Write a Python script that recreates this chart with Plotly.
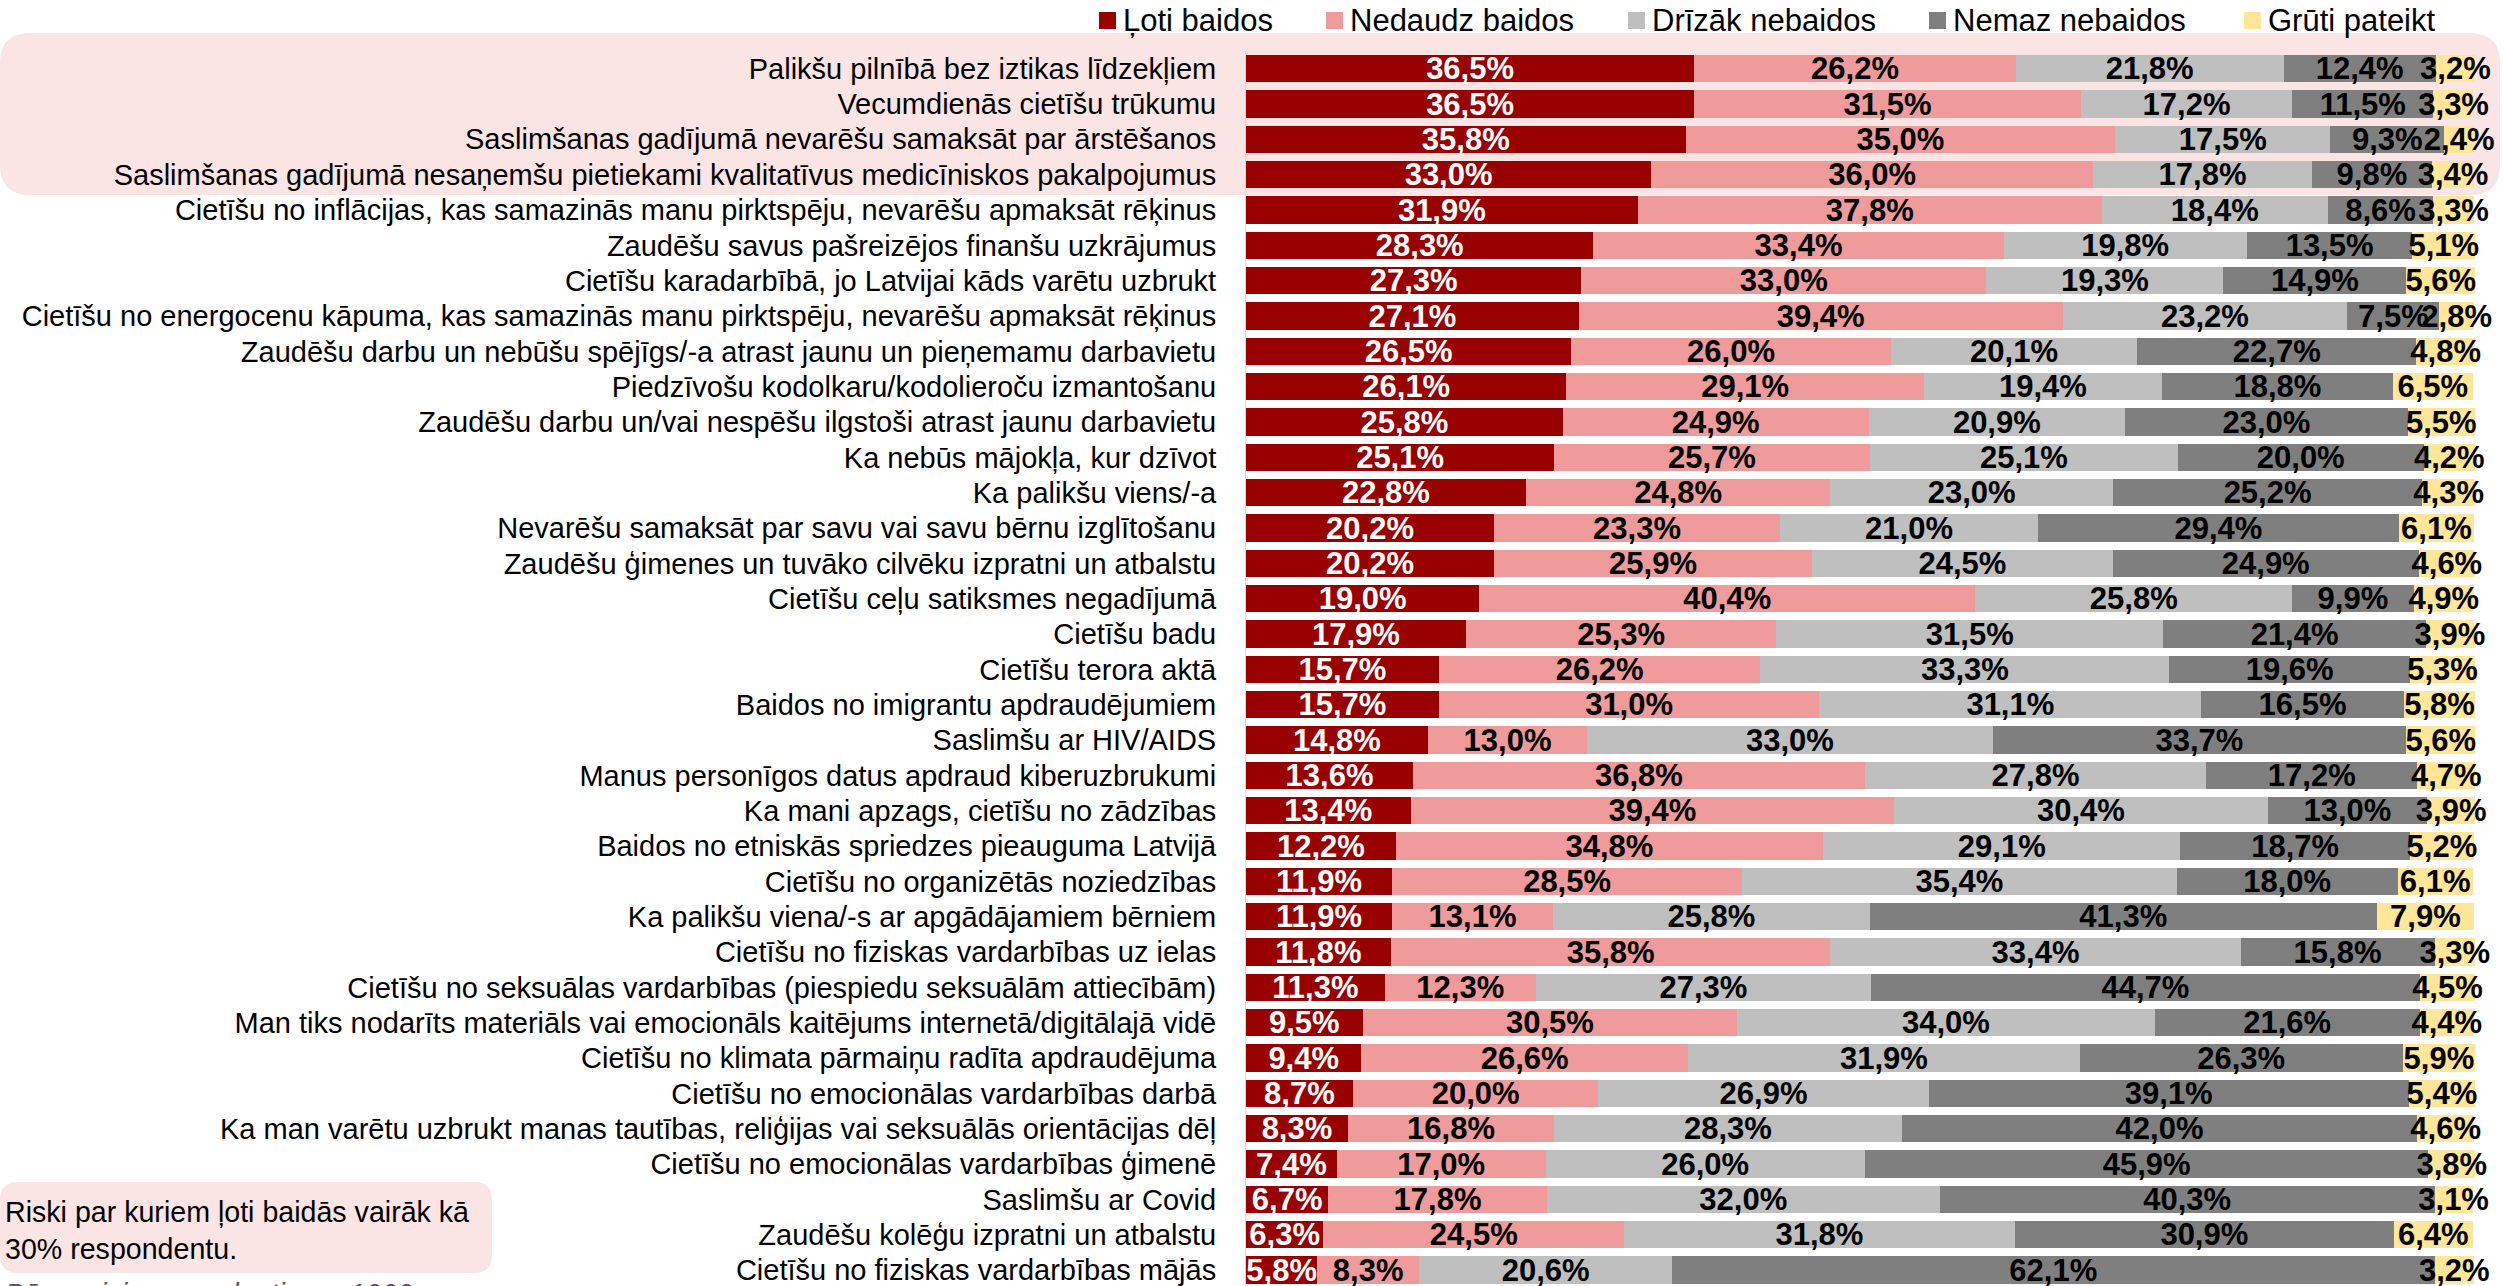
import plotly.graph_objects as go

categories = [
    "Palikšu pilnībā bez iztikas līdzekļiem",
    "Vecumdienās cietīšu trūkumu",
    "Saslimšanas gadījumā nevarēšu samaksāt par ārstēšanos",
    "Saslimšanas gadījumā nesaņemšu pietiekami kvalitatīvus medicīniskos pakalpojumus",
    "Cietīšu no inflācijas, kas samazinās manu pirktspēju, nevarēšu apmaksāt rēķinus",
    "Zaudēšu savus pašreizējos finanšu uzkrājumus",
    "Cietīšu karadarbībā, jo Latvijai kāds varētu uzbrukt",
    "Cietīšu no energocenu kāpuma, kas samazinās manu pirktspēju, nevarēšu apmaksāt rēķinus",
    "Zaudēšu darbu un nebūšu spējīgs/-a atrast jaunu un pieņemamu darbavietu",
    "Piedzīvošu kodolkaru/kodolieroču izmantošanu",
    "Zaudēšu darbu un/vai nespēšu ilgstoši atrast jaunu darbavietu",
    "Ka nebūs mājokļa, kur dzīvot",
    "Ka palikšu viens/-a",
    "Nevarēšu samaksāt par savu vai savu bērnu izglītošanu",
    "Zaudēšu ģimenes un tuvāko cilvēku izpratni un atbalstu",
    "Cietīšu ceļu satiksmes negadījumā",
    "Cietīšu badu",
    "Cietīšu terora aktā",
    "Baidos no imigrantu apdraudējumiem",
    "Saslimšu ar HIV/AIDS",
    "Manus personīgos datus apdraud kiberuzbrukumi",
    "Ka mani apzags, cietīšu no zādzības",
    "Baidos no etniskās spriedzes pieauguma Latvijā",
    "Cietīšu no organizētās noziedzības",
    "Ka palikšu viena/-s ar apgādājamiem bērniem",
    "Cietīšu no fiziskas vardarbības uz ielas",
    "Cietīšu no seksuālas vardarbības (piespiedu seksuālām attiecībām)",
    "Man tiks nodarīts materiāls vai emocionāls kaitējums internetā/digitālajā vidē",
    "Cietīšu no klimata pārmaiņu radīta apdraudējuma",
    "Cietīšu no emocionālas vardarbības darbā",
    "Ka man varētu uzbrukt manas tautības, reliģijas vai seksuālās orientācijas dēļ",
    "Cietīšu no emocionālas vardarbības ģimenē",
    "Saslimšu ar Covid",
    "Zaudēšu kolēģu izpratni un atbalstu",
    "Cietīšu no fiziskas vardarbības mājās",
]

loti_baidos = [36.5, 36.5, 35.8, 33.0, 31.9, 28.3, 27.3, 27.1, 26.5, 26.1, 25.8, 25.1, 22.8, 20.2, 20.2,
               19.0, 17.9, 15.7, 15.7, 14.8, 13.6, 13.4, 12.2, 11.9, 11.9, 11.8, 11.3, 9.5, 9.4, 8.7,
               8.3, 7.4, 6.7, 6.3, 5.8]
nedaudz_baidos = [26.2, 31.5, 35.0, 36.0, 37.8, 33.4, 33.0, 39.4, 26.0, 29.1, 24.9, 25.7, 24.8, 23.3, 25.9,
                  40.4, 25.3, 26.2, 31.0, 13.0, 36.8, 39.4, 34.8, 28.5, 13.1, 35.8, 12.3, 30.5, 26.6, 20.0,
                  16.8, 17.0, 17.8, 24.5, 8.3]
drizak_nebaidos = [21.8, 17.2, 17.5, 17.8, 18.4, 19.8, 19.3, 23.2, 20.1, 19.4, 20.9, 25.1, 23.0, 21.0, 24.5,
                   25.8, 31.5, 33.3, 31.1, 33.0, 27.8, 30.4, 29.1, 35.4, 25.8, 33.4, 27.3, 34.0, 31.9, 26.9,
                   28.3, 26.0, 32.0, 31.8, 20.6]
nemaz_nebaidos = [12.4, 11.5, 9.3, 9.8, 8.6, 13.5, 14.9, 7.5, 22.7, 18.8, 23.0, 20.0, 25.2, 29.4, 24.9,
                  9.9, 21.4, 19.6, 16.5, 33.7, 17.2, 13.0, 18.7, 18.0, 41.3, 15.8, 44.7, 21.6, 26.3, 39.1,
                  42.0, 45.9, 40.3, 30.9, 62.1]
gruti_pateikt = [3.2, 3.3, 2.4, 3.4, 3.3, 5.1, 5.6, 2.8, 4.8, 6.5, 5.5, 4.2, 4.3, 6.1, 4.6,
                 4.9, 3.9, 5.3, 5.8, 5.6, 4.7, 3.9, 5.2, 6.1, 7.9, 3.3, 4.5, 4.4, 5.9, 5.4,
                 4.6, 3.8, 3.1, 6.4, 3.2]

series_names = ["Ļoti baidos", "Nedaudz baidos", "Drīzāk nebaidos", "Nemaz nebaidos", "Grūti pateikt"]
series_values = [loti_baidos, nedaudz_baidos, drizak_nebaidos, nemaz_nebaidos, gruti_pateikt]
colors = ["#990000", "#EF9A9B", "#BFBFBF", "#7F7F7F", "#FFE699"]
text_colors = ["white", "black", "black", "black", "black"]

# legend layout (pixel positions of the legend text starts)
legend_text_x = [1123, 1350, 1652, 1953, 2268]

FONT = "Liberation Sans, Arial, sans-serif"
W_FIG, H_FIG = 2504, 1286
L, R, T, B = 1246, 24, 51, 0
PW = W_FIG - L - R
PH = H_FIG - T - B


def fx(px):
    return (px - L) / PW


def fy(py):
    return (H_FIG - B - py) / PH


def rrect_path(x0, y0, x1, y1, r):
    def p(x, y):
        return f"{fx(x):.6f},{fy(y):.6f}"
    return (f"M{p(x0 + r, y0)} L{p(x1 - r, y0)} Q{p(x1, y0)} {p(x1, y0 + r)} "
            f"L{p(x1, y1 - r)} Q{p(x1, y1)} {p(x1 - r, y1)} L{p(x0 + r, y1)} "
            f"Q{p(x0, y1)} {p(x0, y1 - r)} L{p(x0, y0 + r)} Q{p(x0, y0)} {p(x0 + r, y0)} Z")


def fmt(v):
    return f"{v:.1f}".replace(".", ",") + "%"


fig = go.Figure()
for name, vals, col, tcol in zip(series_names, series_values, colors, text_colors):
    fig.add_trace(go.Bar(
        y=categories, x=vals, orientation="h", name=name,
        marker=dict(color=col, line=dict(width=0)),
        text=[fmt(v) for v in vals],
        textposition="inside", insidetextanchor="middle", textangle=0,
        constraintext="none", cliponaxis=False,
        textfont=dict(color=tcol, size=31, family=FONT, weight="bold"),
        hoverinfo="skip", showlegend=False,
    ))

shapes = [
    dict(type="path", xref="paper", yref="paper", layer="below",
         path=rrect_path(0, 33, 2500, 195, 30), fillcolor="#FBE4E4", line=dict(width=0)),
    dict(type="path", xref="paper", yref="paper", layer="below",
         path=rrect_path(0, 1182, 492, 1273, 18), fillcolor="#FBE4E4", line=dict(width=0)),
]

annotations = [
    dict(xref="paper", yref="paper", x=fx(3), y=fy(1230), xanchor="left", yanchor="middle",
         align="left", showarrow=False,
         text="Riski par kuriem ļoti baidās vairāk kā<br>30% respondentu.",
         font=dict(size=28.6, family=FONT, color="black")),
    dict(xref="paper", yref="paper", x=fx(3), y=fy(1276), xanchor="left", yanchor="top",
         align="left", showarrow=False,
         text="<i>Bāze: visi respondenti, n = 1000</i>",
         font=dict(size=28.6, family=FONT, color="#595959")),
]

# custom legend: colour squares + texts
for name, col, tx in zip(series_names, colors, legend_text_x):
    shapes.append(dict(type="rect", xref="paper", yref="paper", layer="above",
                       x0=fx(tx - 24), x1=fx(tx - 7), y0=fy(12), y1=fy(29),
                       fillcolor=col, line=dict(width=0)))
    annotations.append(dict(xref="paper", yref="paper", x=fx(tx - 2), y=fy(20),
                            xanchor="left", yanchor="middle", showarrow=False,
                            text=name, font=dict(size=31, family=FONT, color="black")))

fig.update_layout(
    width=W_FIG, height=H_FIG,
    margin=dict(l=L, r=R, t=T, b=B, autoexpand=False),
    barmode="stack", bargap=0.225,
    paper_bgcolor="white", plot_bgcolor="rgba(0,0,0,0)",
    font=dict(family=FONT, color="black"),
    showlegend=False,
    shapes=shapes, annotations=annotations,
    xaxis=dict(range=[0, 100.5], visible=False, showgrid=False, zeroline=False, fixedrange=True),
    yaxis=dict(type="category", range=[34.45, -0.5], showgrid=False, zeroline=False,
               showline=True, linecolor="#D9D9D9", linewidth=1,
               ticks="outside", ticklen=23, tickcolor="rgba(0,0,0,0)",
               tickfont=dict(size=29, family=FONT, color="black")),
)

fig.write_html("out.html",
               config={"displayModeBar": False},
               post_script="document.body.style.margin='0';document.body.style.overflow='hidden';")
